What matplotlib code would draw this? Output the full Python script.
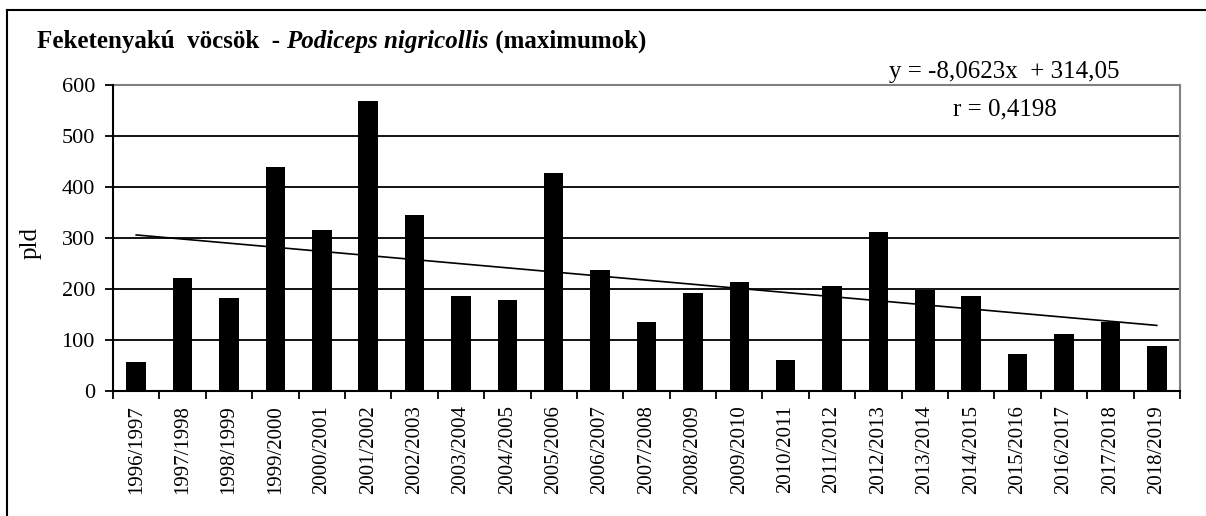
import numpy as np
import matplotlib
matplotlib.use("Agg")
import matplotlib.pyplot as plt
from matplotlib.lines import Line2D

plt.rcParams['font.family'] = ['Liberation Serif', 'DejaVu Serif']

seasons = ['1996/1997', '1997/1998', '1998/1999', '1999/2000', '2000/2001', '2001/2002',
           '2002/2003', '2003/2004', '2004/2005', '2005/2006', '2006/2007', '2007/2008',
           '2008/2009', '2009/2010', '2010/2011', '2011/2012', '2012/2013', '2013/2014',
           '2014/2015', '2015/2016', '2016/2017', '2017/2018', '2018/2019']
maximums = [56, 221, 182, 440, 315, 569, 346, 186, 178, 428, 237, 135,
            193, 213, 60, 205, 311, 199, 186, 72, 111, 135, 88]
slope = -8.0623
intercept = 314.05
r_value = '0,4198'

W, H = 1206, 516
fig = plt.figure(figsize=(W / 100, H / 100), dpi=100)
ax = fig.add_axes([113 / W, (H - 391) / H, (1180 - 113) / W, (391 - 85) / H])

x = np.arange(1, len(seasons) + 1)
ax.bar(x, maximums, width=0.42, color='black', zorder=3)
trend = slope * x + intercept
ax.plot(x, trend, color='black', lw=1.2, zorder=4)

ax.set_xlim(0.5, len(seasons) + 0.5)
ax.set_ylim(0, 600)
ax.set_yticks(range(0, 601, 100))
ax.set_yticklabels([str(v) for v in range(0, 601, 100)], fontsize=16)
for v in range(100, 600, 100):
    ax.axhline(v, color='black', lw=1.3, zorder=1)

ax.set_xticks(x)
ax.set_xticklabels(seasons, rotation=90, fontsize=15)
ax.tick_params(axis='x', length=0, pad=10)
ax.set_xticks(np.arange(0.5, len(seasons) + 1), minor=True)
ax.tick_params(axis='x', which='minor', length=6, width=1.3, direction='out', color='black')
ax.tick_params(axis='y', length=6, width=1.3, direction='out', pad=7)

for s in ['left', 'bottom']:
    ax.spines[s].set_color('black')
    ax.spines[s].set_linewidth(1.5)
for s in ['top', 'right']:
    ax.spines[s].set_color('#808080')
    ax.spines[s].set_linewidth(1.5)
ax.spines['left'].set_zorder(5)
ax.spines['bottom'].set_zorder(5)

ax.set_ylabel('pld', fontsize=18)
ax.yaxis.set_label_coords((42 - 113) / (1180 - 113), (391 - 243) / (391 - 85))

# trend equation text
fig.text(1004 / W, 1 - 78 / H, 'y = -8,0623x  + 314,05', ha='center', va='baseline', fontsize=18)
fig.text(1005 / W, 1 - 115 / H, 'r = ' + r_value, ha='center', va='baseline', fontsize=18)

# title built from pieces (bold + bold italic)
renderer = fig.canvas.get_renderer()
pieces = [('Feketenyakú  vöcsök  - ', 'normal'), ('Podiceps nigricollis', 'italic'),
          (' (maximumok)', 'normal')]
xpos = 37
for txt, style in pieces:
    t = fig.text(xpos / W, 1 - 48 / H, txt, fontsize=18, fontweight='bold',
                 fontstyle=style, va='baseline', ha='left')
    bb = t.get_window_extent(renderer)
    xpos = bb.x1

# outer frame (only top and left edges visible)
fig.add_artist(Line2D([7 / W, 7 / W], [0, 1 - 10 / H], transform=fig.transFigure,
                      color='black', lw=1.5))
fig.add_artist(Line2D([7 / W, 1], [1 - 10 / H, 1 - 10 / H], transform=fig.transFigure,
                      color='black', lw=1.5))

fig.savefig('out.png', dpi=100)
